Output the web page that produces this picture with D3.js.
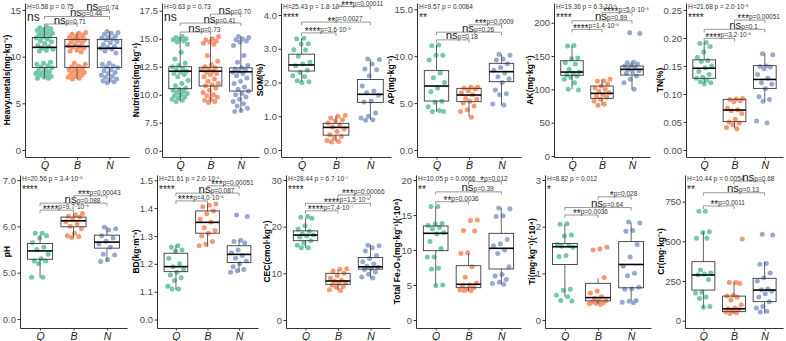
<!DOCTYPE html>
<html>
<head>
<meta charset="utf-8">
<script src="https://cdn.jsdelivr.net/npm/d3@7"></script>
<style>
body { margin: 0; background: #fff; }
svg { display: block; }
text { font-family: "Liberation Sans", Arial, sans-serif; }
</style>
</head>
<body>
<div id="chart"></div>
<script>
var width = 786, height = 341;

// groups and colours
var groups = ["Q", "B", "N"];
var groupColors = ["#66c2a5", "#fc8d62", "#8da0cb"];

var titles = ["Heavy.metals(mg·kg⁻¹)", "Nutrients(mg·kg⁻¹)", "SOM(%)", "AP(mg·kg⁻¹)", "AK(mg·kg⁻¹)", "TN(%)",
              "pH", "BD(kg·m⁻³)", "CEC(cmol·kg⁻¹)", "Total Fe₂O₃(mg·kg⁻¹)(·10⁴)", "Ti(mg·kg⁻¹)(·10⁴)", "Cr(mg·kg⁻¹)"];

// Kruskal-Wallis result for each panel
var hTests = ["H=0.58  p = 0.75", "H=0.63  p = 0.73", "H=25.43  p = 1.8·10⁻⁶", "H=9.57  p = 0.0084",
              "H=19.36  p = 6.3·10⁻⁵", "H=21.68  p = 2.0·10⁻⁵", "H=20.56  p = 3.4·10⁻⁵", "H=21.61  p = 2.0·10⁻⁵",
              "H=28.44  p = 6.7·10⁻⁷", "H=10.05  p = 0.0066", "H=8.82  p = 0.012", "H=10.44  p = 0.0054"];
var globalSig = ["ns", "ns", "****", "**", "****", "****", "****", "****", "****", "**", "*", "**"];

// pairwise tests, order Q-B, Q-N, B-N
var pairSig = [
  [["ns", "p=0.71"], ["ns", "p=0.44"], ["ns", "p=0.74"]],
  [["ns", "p=0.73"], ["ns", "p=0.41"], ["ns", "p=0.70"]],
  [["****", "p=3.6·10⁻⁵"], ["**", "p=0.0027"], ["***", "p=0.00011"]],
  [["ns", "p=0.18"], ["ns", "p=0.26"], ["***", "p=0.0009"]],
  [["****", "p=1.4·10⁻⁵"], ["ns", "p=0.89"], ["****", "p=5.0·10⁻⁵"]],
  [["****", "p=3.2·10⁻⁵"], ["ns", "p=0.1"], ["***", "p=0.00051"]],
  [["****", "p=9.7·10⁻⁶"], ["ns", "p=0.088"], ["***", "p=0.00043"]],
  [["****", "p=4.0·10⁻⁵"], ["ns", "p=0.087"], ["***", "p=0.00051"]],
  [["****", "p=7.4·10⁻⁷"], ["****", "p=1.5·10⁻⁶"], ["***", "p=0.00066"]],
  [["**", "p=0.0036"], ["ns", "p=0.39"], ["*", "p=0.012"]],
  [["**", "p=0.0036"], ["ns", "p=0.64"], ["*", "p=0.028"]],
  [["**", "p=0.0011"], ["ns", "p=0.13"], ["ns", "p=0.68"]]
];

// y tick values and the labels printed at them
var tickVals = [[0, 5, 10, 15], [5, 7.5, 10, 12.5, 15, 17.5], [0, 1, 2, 3, 4], [0, 5, 10, 15],
                [0, 50, 100, 150, 200], [0, 0.05, 0.1, 0.15, 0.2, 0.25], [4, 5, 6, 7], [1.0, 1.1, 1.2, 1.3, 1.4, 1.5],
                [0, 10, 20, 30], [0, 5, 10, 15, 20], [0, 1, 2, 3], [0, 250, 500, 750]];
var tickLabels = [["0", "5", "10", "15"], ["0.0", "7.5", "10.0", "12.5", "15.0", "17.5"],
                  ["0.0", "1.0", "2.0", "3.0", "4.0"], ["0.0", "5.0", "10.0", "15.0"],
                  ["0", "50", "100", "150", "200"], ["0.00", "0.05", "0.10", "0.15", "0.20", "0.25"],
                  ["0.0", "5.0", "6.0", "7.0"], ["0.0", "1.1", "1.2", "1.3", "1.4", "1.5"],
                  ["0", "10", "20", "30"], ["0", "5", "10", "15", "20"], ["0", "1", "2", "3"],
                  ["0", "250", "500", "750"]];

// box summaries [lower whisker, Q1, median, Q3, upper whisker] for Q, B, N
var boxStats = [
  [[7.7, 8.85, 11.0, 12.05, 13.2], [7.6, 8.85, 11.1, 11.85, 12.6], [7.2, 8.85, 10.9, 11.85, 12.7]],
  [[9.4, 10.54, 12.1, 12.5, 15.2], [9.3, 10.78, 12.1, 12.45, 15.2], [8.5, 10.33, 12.05, 12.4, 15.2]],
  [[2.02, 2.34, 2.52, 2.84, 3.31], [0.25, 0.44, 0.67, 0.79, 1.02], [0.89, 1.41, 1.65, 2.09, 2.69]],
  [[4.09, 5.22, 6.82, 8.46, 11.2], [3.55, 5.15, 5.86, 6.57, 6.7], [4.8, 7.28, 8.35, 9.24, 10.2]],
  [[100, 121, 126, 143, 166], [76.5, 86.5, 94, 105, 115], [100, 121.5, 130, 135, 141.5]],
  [[0.119, 0.128, 0.146, 0.161, 0.193], [0.0387, 0.0506, 0.0714, 0.0905, 0.092], [0.087, 0.110, 0.126, 0.1506, 0.173]],
  [[4.89, 5.29, 5.47, 5.63, 5.81], [5.76, 5.99, 6.12, 6.2, 6.27], [5.24, 5.53, 5.66, 5.81, 5.99]],
  [[1.106, 1.172, 1.19, 1.238, 1.268], [1.262, 1.31, 1.349, 1.39, 1.415], [1.17, 1.205, 1.234, 1.265, 1.285]],
  [[15.5, 17.0, 18.2, 19.1, 21.8], [6.4, 7.64, 8.36, 10.0, 10.7], [8.9, 10.9, 11.4, 13.4, 16.1]],
  [[4.9, 9.9, 12.38, 13.43, 16.2], [4.14, 4.62, 5.1, 7.76, 9.5], [5.1, 7.29, 10.24, 12.38, 16.05]],
  [[0.5, 1.19, 1.57, 1.64, 2.05], [0.34, 0.41, 0.48, 0.786, 0.89], [0.41, 0.69, 1.19, 1.68, 2.09]],
  [[78, 193, 288, 372, 561], [46, 57, 75, 155, 245], [46, 120, 193, 267, 372]]
];

// sample values, one array per group
var heavyQ = [13.2,13.1,13.0,12.9,12.8,12.7,12.6,12.5,12.4,12.3,12.2,12.1,12.0,11.9,11.7,11.6,11.4,11.2,11.1,10.9,10.8,10.7,10.6,9.4,9.3,9.2,9.0,8.9,8.8,8.6,8.5,8.4,8.3,8.2,8.1,8.0,7.9,7.8,7.7,7.7];
var heavyB = [12.6,12.5,12.4,12.3,12.2,12.1,12.0,11.9,11.8,11.7,11.6,11.5,11.3,11.2,11.1,11.0,10.9,10.7,10.6,10.5,9.3,9.2,9.0,8.9,8.8,8.7,8.6,8.5,8.4,8.3,8.2,8.1,8.0,7.9,7.8,7.7,7.6];
var heavyN = [12.7,12.6,12.5,12.4,12.2,12.1,12.0,11.9,11.8,11.6,11.5,11.3,11.1,11.0,10.9,10.8,10.6,10.4,9.3,9.2,9.0,8.9,8.8,8.6,8.5,8.3,8.2,8.0,7.9,7.8,7.6,7.5,7.4,7.3,7.2];
var nutQ = [15.2,15.1,15.0,15.0,14.9,14.8,14.7,14.5,13.8,13.2,12.8,12.6,12.5,12.3,12.2,12.1,12.0,11.9,11.8,11.6,11.3,11.0,10.8,10.6,10.5,10.4,10.3,10.2,10.1,10.0,9.9,9.8,9.7,9.6,9.5,9.4];
var nutB = [15.2,15.0,14.9,14.8,14.7,14.6,14.5,13.5,13.0,12.7,12.5,12.4,12.3,12.2,12.1,12.0,11.9,11.8,11.6,11.4,11.2,11.0,10.9,10.8,10.6,10.4,10.2,10.0,9.9,9.8,9.6,9.5,9.4,9.3];
var nutN = [15.2,15.1,15.0,14.9,14.8,14.7,14.4,13.5,12.9,12.6,12.4,12.3,12.2,12.1,12.0,11.9,11.7,11.5,11.2,11.0,10.7,10.5,10.3,10.1,10.0,9.8,9.6,9.4,9.2,9.0,8.8,8.6,8.5];
var somQ = [3.31,3.3,3.15,3.14,2.97,2.96,2.78,2.6,2.55,2.5,2.36,2.3,2.2,2.18,2.05,2.02,2.0];
var somB = [1.02,1.0,0.95,0.9,0.87,0.8,0.75,0.68,0.62,0.55,0.45,0.4,0.35,0.28,0.25,0.24];
var somN = [2.7,2.68,2.55,2.4,2.38,2.2,1.9,1.75,1.7,1.62,1.45,1.42,1.1,1.0,0.95,0.9,0.88];
var apQ = [11.2,11.1,10.1,10.1,9.6,8.2,7.7,7.2,6.6,6.2,5.2,5.1,4.6,4.2,4.1,4.1];
var apB = [6.7,6.7,6.6,6.5,6.3,6.1,5.9,5.5,5.4,5.2,5.0,4.7,4.3,4.1,3.5];
var apN = [10.2,10.1,9.7,9.6,9.2,8.8,8.5,8.2,7.8,7.6,7.2,6.4,6.0,5.9,4.9,4.8];
var akQ = [166,165,147,146,140,138,130,126,124,122,120,118,115,110,100,99];
var akB = [115,113,112,108,105,102,100,97,95,92,90,88,85,82,78,76];
var akN = [185,184,141,140,138,136,135,133,130,128,126,124,120,115,110,100];
var tnQ = [0.192,0.19,0.185,0.175,0.165,0.16,0.158,0.15,0.147,0.14,0.135,0.13,0.128,0.125,0.122,0.12,0.118];
var tnB = [0.092,0.091,0.09,0.088,0.086,0.075,0.072,0.07,0.065,0.055,0.05,0.048,0.045,0.04,0.038];
var tnN = [0.172,0.17,0.15,0.149,0.148,0.145,0.135,0.128,0.12,0.118,0.11,0.095,0.09,0.087,0.052,0.048];
var phQ = [5.85,5.85,5.8,5.75,5.65,5.55,5.5,5.4,5.3,5.25,5.25,5.2,4.9,4.9];
var phB = [6.28,6.25,6.22,6.2,6.15,6.1,6.05,6.0,5.95,5.85,5.8,5.78,5.76];
var phN = [5.98,5.95,5.92,5.8,5.75,5.68,5.62,5.55,5.4,5.38,5.28,5.24];
var bdQ = [1.265,1.26,1.25,1.245,1.22,1.2,1.19,1.18,1.17,1.16,1.15,1.14,1.12,1.11,1.11];
var bdB = [1.415,1.41,1.405,1.39,1.38,1.36,1.35,1.33,1.32,1.31,1.3,1.28,1.27,1.265];
var bdN = [1.375,1.37,1.285,1.28,1.275,1.25,1.24,1.23,1.22,1.21,1.2,1.19,1.18,1.175,1.17];
var cecQ = [22.2,22.0,21.8,20.2,19.5,19.0,18.5,18.2,18.0,17.8,17.0,16.5,16.0,15.5,15.5];
var cecB = [11.0,10.9,10.5,10.0,9.5,9.0,8.5,8.3,8.0,7.8,7.5,7.2,7.0,6.5,6.3];
var cecN = [16.0,15.9,15.5,14.8,13.8,13.2,12.5,12.0,11.5,11.3,11.0,10.8,10.3,9.8,9.2,9.0];
var feQ = [16.2,16.2,13.8,13.7,13.5,13.2,13.0,12.5,12.3,11.2,10.2,9.0,9.0,7.4,7.3,5.0,4.9];
var feB = [14.3,14.2,12.8,12.7,9.6,9.5,7.6,6.1,5.3,5.0,4.9,4.6,4.4,4.3,4.2,4.2];
var feN = [16.0,15.9,14.9,14.8,11.5,10.9,10.6,10.0,9.5,7.6,6.5,6.3,5.8,5.4,5.2,5.1];
var tiQ = [2.06,2.05,1.82,1.8,1.62,1.6,1.58,1.56,1.38,1.36,0.66,0.64,0.53,0.5,0.42,0.41];
var tiB = [1.56,1.52,1.5,0.91,0.62,0.58,0.5,0.46,0.42,0.4,0.38,0.37,0.36,0.35,0.34];
var tiN = [2.1,2.08,1.92,1.9,1.62,1.35,1.15,1.0,0.95,0.7,0.67,0.66,0.42,0.4,0.38,0.37];
var crQ = [690,690,560,555,520,520,320,300,295,290,260,180,175,150,140,90,85];
var crB = [515,240,240,235,160,155,150,130,100,80,75,70,60,55,50,45];
var crN = [545,540,360,355,300,270,250,200,195,185,170,150,120,90,80,60,55];

var samples = [[heavyQ, heavyB, heavyN], [nutQ, nutB, nutN], [somQ, somB, somN], [apQ, apB, apN],
               [akQ, akB, akN], [tnQ, tnB, tnN], [phQ, phB, phN], [bdQ, bdB, bdN],
               [cecQ, cecB, cecN], [feQ, feB, feN], [tiQ, tiB, tiN], [crQ, crB, crN]];

// layout: plot x extent, row, y domain and bracket heights (data units)
var rows = [{top: 3, bottom: 157}, {top: 175, bottom: 328}];
var panels = [
  {x0: 25,  x1: 129, row: 0, dom: [-0.75, 15.75],    br: [13.5, 14.3, 14.95]},
  {x0: 162, x1: 259, row: 0, dom: [4.44, 18.19],     br: [15.6, 16.4, 17.2]},
  {x0: 281, x1: 391, row: 0, dom: [-0.207, 4.356],   br: [3.47, 3.79, 4.25]},
  {x0: 417, x1: 521, row: 0, dom: [-0.746, 15.67],   br: [11.74, 12.56, 13.34]},
  {x0: 554, x1: 650, row: 0, dom: [-1.5, 229.6],     br: [190, 203, 215]},
  {x0: 686, x1: 783, row: 0, dom: [-0.0125, 0.2625], br: [0.1995, 0.2155, 0.232]},
  {x0: 20,  x1: 127, row: 1, dom: [3.807, 7.108],    br: [6.35, 6.5, 6.66]},
  {x0: 157, x1: 258, row: 1, dom: [0.9697, 1.519],   br: [1.426, 1.454, 1.48]},
  {x0: 286, x1: 390, row: 1, dom: [-1.71, 31.07],    br: [23.4, 25.0, 26.8]},
  {x0: 416, x1: 521, row: 1, dom: [-1.14, 20.71],    br: [16.9, 18.3, 19.76]},
  {x0: 545, x1: 651, row: 1, dom: [-0.171, 3.107],   br: [2.25, 2.41, 2.64]},
  {x0: 685, x1: 783, row: 1, dom: [-46, 918],        br: [723, 806, 879]}
];
var pairs = [["Q", "B"], ["Q", "N"], ["B", "N"]];

var svg = d3.select("#chart").append("svg")
            .attr("width", width)
            .attr("height", height);

// fixed spread for the jittered points (golden ratio steps, not random)
function jitter(i, gi) {
    var u = ((i + 1) * 0.6180339887 + gi * 0.37) % 1;
    return (u - 0.5) * 0.55;
}

panels.forEach(function(p, k) {
    var row = rows[p.row];
    var x = d3.scalePoint().domain(groups).range([p.x0, p.x1]).padding(0.6);
    var y = d3.scaleLinear().domain(p.dom).range([row.bottom, row.top]);
    var step = x.step();
    var boxW = step * 0.75;
    var g = svg.append("g");

    // jittered points
    groups.forEach(function(grp, gi) {
        g.append("g")
            .selectAll("circle")
            .data(samples[k][gi])
            .enter().append("circle")
                .attr("cx", function(d, i) { return x(grp) + jitter(i, gi) * step; })
                .attr("cy", function(d) { return y(d); })
                .attr("r", 2.5)
                .attr("fill", groupColors[gi])
                .attr("fill-opacity", 0.9);
    });

    // boxes
    var boxes = g.append("g")
        .selectAll("g")
        .data(boxStats[k])
        .enter().append("g");
    boxes.append("line")
        .attr("x1", function(d, i) { return x(groups[i]); })
        .attr("x2", function(d, i) { return x(groups[i]); })
        .attr("y1", function(d) { return y(d[3]); })
        .attr("y2", function(d) { return y(d[4]); })
        .attr("stroke", "#555").attr("stroke-width", 0.9);
    boxes.append("line")
        .attr("x1", function(d, i) { return x(groups[i]); })
        .attr("x2", function(d, i) { return x(groups[i]); })
        .attr("y1", function(d) { return y(d[1]); })
        .attr("y2", function(d) { return y(d[0]); })
        .attr("stroke", "#555").attr("stroke-width", 0.9);
    boxes.append("rect")
        .attr("x", function(d, i) { return x(groups[i]) - boxW / 2; })
        .attr("y", function(d) { return y(d[3]); })
        .attr("width", boxW)
        .attr("height", function(d) { return y(d[1]) - y(d[3]); })
        .attr("fill", "none")
        .attr("stroke", "#3a3a3a").attr("stroke-width", 0.9);
    boxes.append("line")
        .attr("x1", function(d, i) { return x(groups[i]) - boxW / 2; })
        .attr("x2", function(d, i) { return x(groups[i]) + boxW / 2; })
        .attr("y1", function(d) { return y(d[2]); })
        .attr("y2", function(d) { return y(d[2]); })
        .attr("stroke", "#000").attr("stroke-width", 1.6);

    // axes
    var yAxis = g.append("g")
        .attr("transform", "translate(" + p.x0 + ",0)")
        .call(d3.axisLeft(y).tickValues(tickVals[k])
              .tickFormat(function(d, i) { return tickLabels[k][i]; })
              .tickSize(2.5).tickSizeOuter(0).tickPadding(1.5));
    yAxis.selectAll("text").attr("font-size", 9.5).attr("fill", "#4d4d4d")
        .style("font-family", '"Liberation Sans", Arial, sans-serif');
    yAxis.select(".domain").attr("stroke", "#333");
    yAxis.selectAll(".tick line").attr("stroke", "#333");

    var xAxis = g.append("g")
        .attr("transform", "translate(0," + row.bottom + ")")
        .call(d3.axisBottom(x).tickSize(2.5).tickSizeOuter(0).tickPadding(2));
    xAxis.selectAll("text").attr("font-size", 10.5).attr("fill", "#222")
        .style("font-style", "italic")
        .style("font-family", '"Liberation Sans", Arial, sans-serif');
    xAxis.select(".domain").attr("stroke", "#333");
    xAxis.selectAll(".tick line").attr("stroke", "#333");

    // y title, just left of the tick labels
    var bb = yAxis.node().getBBox();
    var tx = Math.max(p.x0 + bb.x - 1, 10);
    g.append("text")
        .attr("transform", "translate(" + tx + "," + ((row.top + row.bottom) / 2) + ") rotate(-90)")
        .attr("text-anchor", "middle")
        .attr("font-size", 8.5)
        .attr("font-weight", "bold")
        .text(titles[k]);

    // overall test
    g.append("text")
        .attr("x", p.x0 + 2).attr("y", row.top + 5.5)
        .attr("font-size", 6.5).attr("fill", "#333")
        .text(hTests[k]);
    g.append("text")
        .attr("x", p.x0 + 2).attr("y", row.top + 18)
        .attr("font-size", globalSig[k] == "ns" ? 12 : 10)
        .attr("fill", "#222")
        .text(globalSig[k]);

    // pairwise brackets
    pairs.forEach(function(pr, j) {
        var xa = x(pr[0]), xb = x(pr[1]), yy = y(p.br[j]);
        var isNs = pairSig[k][j][0] == "ns";
        g.append("path")
            .attr("d", "M" + xa + "," + (yy + 3) + "V" + yy + "H" + xb + "V" + (yy + 3))
            .attr("fill", "none")
            .attr("stroke", "#8c8c8c").attr("stroke-width", 0.9);
        var lab = g.append("text")
            .attr("x", (xa + xb) / 2 + 9)
            .attr("y", yy - (isNs ? 0.5 : 1))
            .attr("text-anchor", "middle")
            .attr("fill", "#222");
        lab.append("tspan")
            .attr("font-size", isNs ? 11.5 : 10)
            .attr("dy", isNs ? 0 : 3.4)
            .text(pairSig[k][j][0]);
        lab.append("tspan")
            .attr("font-size", 6.5)
            .attr("dy", isNs ? 0 : -3.4)
            .attr("fill", "#333")
            .text(pairSig[k][j][1]);
    });
});
</script>
</body>
</html>
